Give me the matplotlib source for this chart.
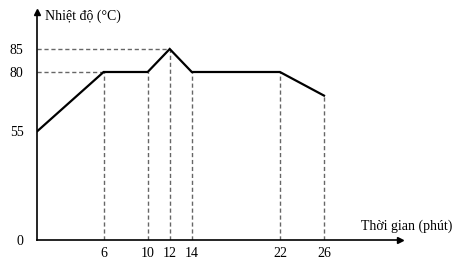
import numpy as np
import matplotlib.pyplot as plt

# Data: time (minutes) vs temperature (°C)
time_min = [0, 6, 10, 12, 14, 22, 26]
temp_c = [55, 80, 80, 85, 80, 80, 70]
x_ticks = [6, 10, 12, 14, 22, 26]
y_ticks = [0, 55, 80, 85]

plt.rcParams['font.family'] = ['Liberation Serif', 'DejaVu Serif']

# schematic (non-linear) temperature axis, as in the drawing
knots = np.array([-100, 0, 55, 80, 85, 300])
pos = np.array([-198, 0, 109, 168, 191, 191 + 215 * 4.6])


def fwd(v):
    return np.interp(v, knots, pos)


def inv(p):
    return np.interp(p, pos, knots)


fig = plt.figure(figsize=(4.6, 2.71), dpi=100)
W, H = 460, 271
x0, y0, x1, y1 = 37.5, 240, 400, 12
ax = fig.add_axes([x0 / W, (H - y0) / H, (x1 - x0) / W, (y0 - y1) / H])
ax.set_yscale('function', functions=(fwd, inv))
px_per_min = (324 - 37.5) / 26
ax.set_xlim(0, (x1 - x0) / px_per_min)
ax.set_ylim(0, inv(y0 - y1))

# dashed guides
dash = dict(color='#666666', lw=1, ls=(0, (3, 2)))
for t, v in zip(time_min[1:], temp_c[1:]):
    ax.plot([t, t], [0, v], **dash)
ax.plot([0, 12], [85, 85], **dash)
ax.plot([0, 6], [80, 80], **dash)

ax.plot(time_min, temp_c, color='black', lw=1.6, solid_joinstyle='miter')

for s in ['top', 'right']:
    ax.spines[s].set_visible(False)
for s in ['left', 'bottom']:
    ax.spines[s].set_linewidth(1.2)
ax.plot(1, 0, '>k', ms=4, transform=ax.transAxes, clip_on=False)
ax.plot(0, 1, '^k', ms=4, transform=ax.transAxes, clip_on=False)

ax.set_xticks(x_ticks)
ax.set_xticklabels([str(v) for v in x_ticks])
ax.set_yticks(y_ticks)
ax.set_yticklabels([str(v) for v in y_ticks])
ax.yaxis.set_minor_locator(plt.NullLocator())
ax.tick_params(axis='both', length=0, labelsize=10)
ax.tick_params(axis='x', pad=5)
ax.tick_params(axis='y', pad=10)

fig.text(45 / W, 1 - 16 / H, 'Nhiệt độ (°C)', fontsize=10, va='center', ha='left')
fig.text(452 / W, 1 - 226 / H, 'Thời gian (phút)', fontsize=10, va='center', ha='right')

fig.savefig('out.png', dpi=100)
